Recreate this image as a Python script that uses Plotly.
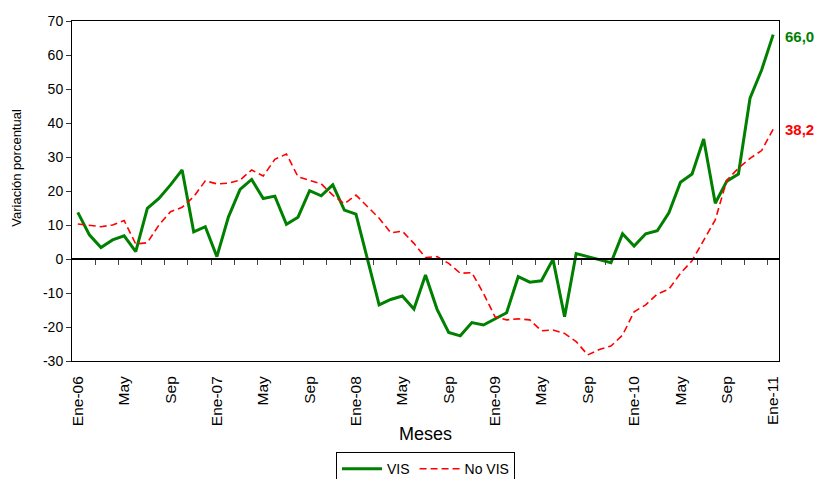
import plotly.graph_objects as go

months = [f"{m}-{y}" for y in ["06", "07", "08", "09", "10"] for m in
          ["Ene", "Feb", "Mar", "Abr", "May", "Jun", "Jul", "Ago", "Sep", "Oct", "Nov", "Dic"]] + ["Ene-11"]

vis = [13.7, 7.1, 3.4, 5.6, 6.8, 2.2, 14.9, 17.8, 21.8, 26.2, 8.0, 9.5,
       0.7, 12.4, 20.5, 23.4, 17.8, 18.5, 10.2, 12.3, 20.1, 18.6, 21.8, 14.4,
       13.2, 0.0, -13.5, -11.9, -10.9, -14.7, -4.7, -14.8, -21.6, -22.6, -18.7, -19.4,
       -17.6, -15.8, -5.2, -6.8, -6.4, -0.1, -17.0, 1.6, 0.7, -0.3, -1.1, 7.4,
       3.8, 7.4, 8.3, 13.6, 22.6, 25.0, 35.3, 16.4, 22.9, 25.0, 47.3, 55.6,
       66.0]

no_vis = [10.3, 10.0, 9.5, 10.0, 11.3, 4.4, 4.8, 10.0, 13.9, 15.2, 18.3, 23.0,
          22.1, 22.3, 23.2, 26.2, 24.4, 29.3, 30.9, 24.2, 23.2, 22.1, 18.8, 16.2,
          18.8, 15.4, 12.0, 7.7, 8.2, 4.6, 0.4, 0.7, -1.3, -4.2, -4.0, -10.1,
          -17.0, -17.9, -17.6, -17.9, -21.1, -20.9, -21.9, -24.3, -28.2, -26.6, -25.6, -22.4,
          -15.5, -13.5, -10.3, -8.9, -4.2, -0.5, 5.6, 11.5, 23.2, 26.7, 29.6, 31.9,
          38.2]

tick_labels = ["Ene-06", "May", "Sep", "Ene-07", "May", "Sep", "Ene-08", "May", "Sep",
               "Ene-09", "May", "Sep", "Ene-10", "May", "Sep", "Ene-11"]

y_ticks = [-30, -20, -10, 0, 10, 20, 30, 40, 50, 60, 70]

n = len(months)
x = list(range(n))
label_pos = list(range(0, n, 4))
minor_pos = [i - 0.5 for i in range(2, n, 2)]

GREEN = "#008000"
RED = "#FF0000"
FONT = "Liberation Sans, Arial, sans-serif"

fig = go.Figure()
fig.add_trace(go.Scatter(x=x, y=vis, mode="lines", name="VIS",
                         line=dict(color=GREEN, width=3)))
fig.add_trace(go.Scatter(x=x, y=no_vis, mode="lines", name="No VIS", xaxis="x2",
                         line=dict(color=RED, width=1.6, dash="7px,4px")))

fig.add_annotation(x=1, xref="paper", y=vis[-1], yref="y", xanchor="left", xshift=4,
                   yshift=-2,
                   text=f"{vis[-1]:.1f}".replace(".", ","), showarrow=False,
                   font=dict(family=FONT, size=15, color=GREEN, weight="bold"))
fig.add_annotation(x=1, xref="paper", y=no_vis[-1], yref="y", xanchor="left", xshift=4,
                   text=f"{no_vis[-1]:.1f}".replace(".", ","), showarrow=False,
                   font=dict(family=FONT, size=15, color=RED, weight="bold"))
fig.add_annotation(x=-0.078, xref="paper", y=0.568, yref="paper", textangle=-90,
                   xanchor="center", yanchor="middle", text="Variación porcentual",
                   showarrow=False, font=dict(family=FONT, size=13, color="black"))

rng = [-0.5, n - 0.5]
fig.update_layout(
    width=817, height=479,
    margin=dict(l=72, r=38, t=21, b=118, autoexpand=False),
    paper_bgcolor="white", plot_bgcolor="white",
    font=dict(family=FONT, size=14, color="black"),
    xaxis=dict(range=rng, tickmode="array", tickvals=label_pos, ticktext=tick_labels,
               tickangle=-90, ticks="outside", ticklen=8, tickcolor="rgba(0,0,0,0)",
               showgrid=False, zeroline=False, automargin=False,
               showline=True, linecolor="black", linewidth=1, mirror=True,
               title=dict(text="Meses", font=dict(size=18), standoff=2),
               tickfont=dict(size=15.5)),
    xaxis2=dict(range=rng, overlaying="x", anchor="free", position=0.3,
                tickmode="array", tickvals=minor_pos, ticks="outside", ticklen=5,
                tickcolor="#444", showticklabels=False, showgrid=False, zeroline=False,
                showline=True, linecolor="black", linewidth=1.5),
    yaxis=dict(range=[-30, 70], tickmode="array", tickvals=y_ticks,
               ticktext=[str(v) for v in y_ticks],
               ticks="outside", ticklen=5, tickcolor="#333",
               showgrid=False, zeroline=False, showline=True, linecolor="black",
               linewidth=1, mirror=True, tickfont=dict(size=14), automargin=False),
    legend=dict(orientation="h", x=0.5, xanchor="center", y=-0.268, yanchor="top",
                bordercolor="black", borderwidth=1, font=dict(size=14),
                itemwidth=40, tracegroupgap=0),
    showlegend=True,
)

fig.write_html("out.html", config={"displayModeBar": False},
               post_script="document.body.style.margin='0px';document.body.style.overflow='hidden';")
